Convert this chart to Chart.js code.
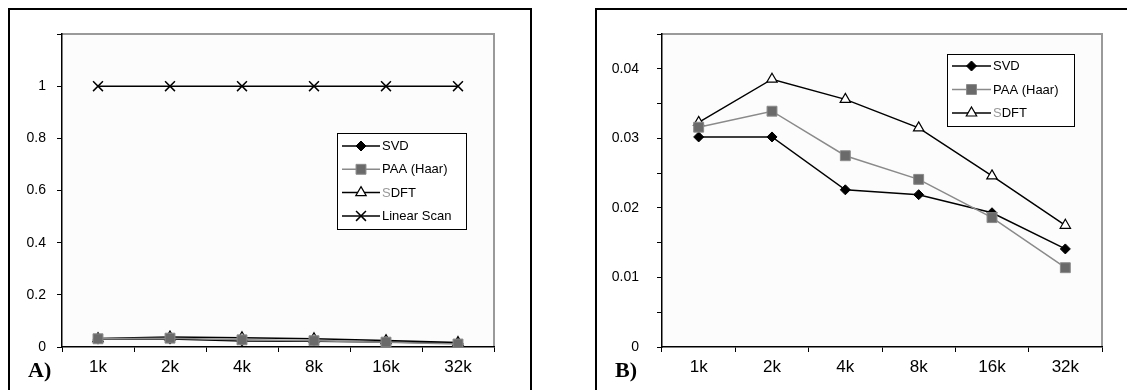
<!DOCTYPE html>
<html><head><meta charset="utf-8">
<script src="https://cdn.jsdelivr.net/npm/chart.js@4/dist/chart.umd.min.js"></script>
<style>
html,body{margin:0;padding:0;background:#fff;width:1127px;height:390px;overflow:hidden;position:relative;font-family:"Liberation Sans",Arial,sans-serif}
.box{position:absolute;border:2px solid #000;box-sizing:border-box}
#boxA{left:8px;top:8px;width:524px;height:420px}
#boxB{left:595px;top:8px;width:600px;height:420px}
.wrap{position:absolute;top:0;height:390px}
#wA{left:0;width:560px}
#wB{left:560px;width:567px}
.lab{position:absolute;font-family:"Liberation Serif","Times New Roman",serif;font-weight:bold;font-size:22px;line-height:22px}
</style></head>
<body>
<div class="box" id="boxA"></div>
<div class="box" id="boxB"></div>
<div class="wrap" id="wA"><canvas id="cA" width="560" height="390"></canvas></div>
<div class="wrap" id="wB"><canvas id="cB" width="567" height="390"></canvas></div>
<div class="lab" style="left:28px;top:359px">A)</div>
<div class="lab" style="left:615px;top:359px">B)</div>
<script>
const categories = ["1k","2k","4k","8k","16k","32k"];
const svd = [0.0302,0.0302,0.0226,0.0219,0.0193,0.0141];
const paa = [0.0316,0.0339,0.0275,0.0241,0.0186,0.0114];
const sdft = [0.0323,0.0385,0.0356,0.0315,0.0246,0.0175];
const linearScan = [1,1,1,1,1,1];
const leftYTicks = [0,0.2,0.4,0.6,0.8,1];
const rightYTicks = [0,0.01,0.02,0.03,0.04];

const seriesStyle = {
  SVD: {borderColor:'#000',pointStyle:'rectRot',pointRadius:5,pointBackgroundColor:'#000',pointBorderColor:'#000',pointBorderWidth:1,order:1},
  PAA: {borderColor:'#8a8a8a',pointStyle:'rect',pointRadius:7,pointBackgroundColor:'#6a6a6a',pointBorderColor:'#8a8a8a',pointBorderWidth:1,order:0},
  SDFT:{borderColor:'#000',pointStyle:'triangle',pointRadius:6,pointBackgroundColor:'#fff',pointBorderColor:'#000',pointBorderWidth:1.2,order:2},
  LS:  {borderColor:'#000',pointStyle:'crossRot',pointRadius:7,pointBackgroundColor:'#000',pointBorderColor:'#000',pointBorderWidth:1.5,order:3}
};

function ds(label, data, key){
  return Object.assign({label:label,data:data,borderWidth:1.5,fill:false,tension:0,pointHoverRadius:0}, seriesStyle[key]);
}

const plotBg = {
  id:'plotBg',
  beforeDraw(chart){
    const {ctx, chartArea:a} = chart;
    ctx.save();
    ctx.fillStyle = '#fcfcfc';
    ctx.fillRect(a.left,a.top,a.right-a.left,a.bottom-a.top);
    ctx.strokeStyle = '#9a9a9a';
    ctx.lineWidth = 2;
    ctx.beginPath();
    ctx.moveTo(a.left,a.top);ctx.lineTo(a.right,a.top);ctx.lineTo(a.right,a.bottom);
    ctx.stroke();
    ctx.restore();
  }
};

function legendPlugin(box, items){
  return {
    id:'customLegend',
    afterDraw(chart){
      const ctx = chart.ctx;
      ctx.save();
      ctx.fillStyle='#fff';
      ctx.fillRect(box.x,box.y,box.w,box.h);
      ctx.strokeStyle='#000';ctx.lineWidth=1;
      ctx.strokeRect(box.x+0.5,box.y+0.5,box.w,box.h);
      ctx.font = '13px "Liberation Sans", Arial, sans-serif';
      ctx.textBaseline='middle';
      items.forEach((it,i)=>{
        const y = box.firstY + i*box.step;
        const st = seriesStyle[it.key];
        ctx.strokeStyle = st.borderColor; ctx.lineWidth = 1.5;
        ctx.beginPath(); ctx.moveTo(box.lx0,y); ctx.lineTo(box.lx1,y); ctx.stroke();
        ctx.fillStyle = st.pointBackgroundColor; ctx.strokeStyle = st.pointBorderColor;
        ctx.lineWidth = st.pointBorderWidth;
        Chart.helpers.drawPoint(ctx,{pointStyle:st.pointStyle,radius:st.pointRadius,rotation:0,borderWidth:st.pointBorderWidth},(box.lx0+box.lx1)/2,y);
        let x = box.tx;
        it.parts.forEach(p=>{
          ctx.fillStyle = p.c; ctx.fillText(p.t,x,y+0.5);
          x += ctx.measureText(p.t).width;
        });
      });
      ctx.restore();
    }
  };
}

function makeChart(id, datasets, yOpts, geom, legend){
  return new Chart(document.getElementById(id), {
    type:'line',
    data:{labels:categories, datasets:datasets},
    options:{
      responsive:false, animation:false, events:[],
      layout:{padding:{top:34,right:geom.right,left:0,bottom:0}},
      plugins:{legend:{display:false},tooltip:{enabled:false}},
      scales:{
        x:{
          offset:true,
          grid:{offset:true,drawOnChartArea:false,drawTicks:true,tickLength:5,color:'#000',lineWidth:1},
          border:{color:'#000',width:1.5},
          ticks:{color:'#000',font:{family:'"Liberation Sans", Arial, sans-serif',size:17},padding:5,maxRotation:0,autoSkip:false},
          afterFit(s){s.height=43;}
        },
        y:{
          min:0,max:yOpts.max,
          grid:{drawOnChartArea:false,tickLength:5,color:'#000',lineWidth:1},
          border:{color:'#000',width:1.5},
          ticks:{stepSize:yOpts.step,color:'#000',padding:yOpts.pad,
            font:{family:'"Liberation Sans", Arial, sans-serif',size:14},
            callback:yOpts.cb},
          afterFit(s){s.width=geom.left;}
        }
      }
    },
    plugins:[plotBg, legendPlugin(legend.box, legend.items)]
  });
}

function labelIn(list){
  return function(v){
    for(const t of list){ if(Math.abs(v-t)<1e-9) return String(t); }
    return '';
  };
}

makeChart('cA',
  [ds('SVD',svd,'SVD'),ds('PAA (Haar)',paa,'PAA'),ds('SDFT',sdft,'SDFT'),ds('Linear Scan',linearScan,'LS')],
  {max:1.2,step:0.2,pad:11,cb:labelIn(leftYTicks)},
  {left:62,right:66},
  {box:{x:337,y:133,w:129,h:96,firstY:146,step:23.3,lx0:342,lx1:380,tx:382},
   items:[{key:'SVD',parts:[{t:'SVD',c:'#000'}]},{key:'PAA',parts:[{t:'PAA (Haar)',c:'#000'}]},
          {key:'SDFT',parts:[{t:'S',c:'#999'},{t:'DFT',c:'#000'}]},{key:'LS',parts:[{t:'Linear Scan',c:'#000'}]}]}
);

makeChart('cB',
  [ds('SVD',svd,'SVD'),ds('PAA (Haar)',paa,'PAA'),ds('SDFT',sdft,'SDFT')],
  {max:0.045,step:0.005,pad:18,cb:labelIn(rightYTicks)},
  {left:102,right:25},
  {box:{x:387,y:54,w:127,h:72,firstY:66,step:23.5,lx0:392,lx1:431,tx:433},
   items:[{key:'SVD',parts:[{t:'SVD',c:'#000'}]},{key:'PAA',parts:[{t:'PAA (Haar)',c:'#000'}]},
          {key:'SDFT',parts:[{t:'S',c:'#999'},{t:'DFT',c:'#000'}]}]}
);
</script>
</body></html>
